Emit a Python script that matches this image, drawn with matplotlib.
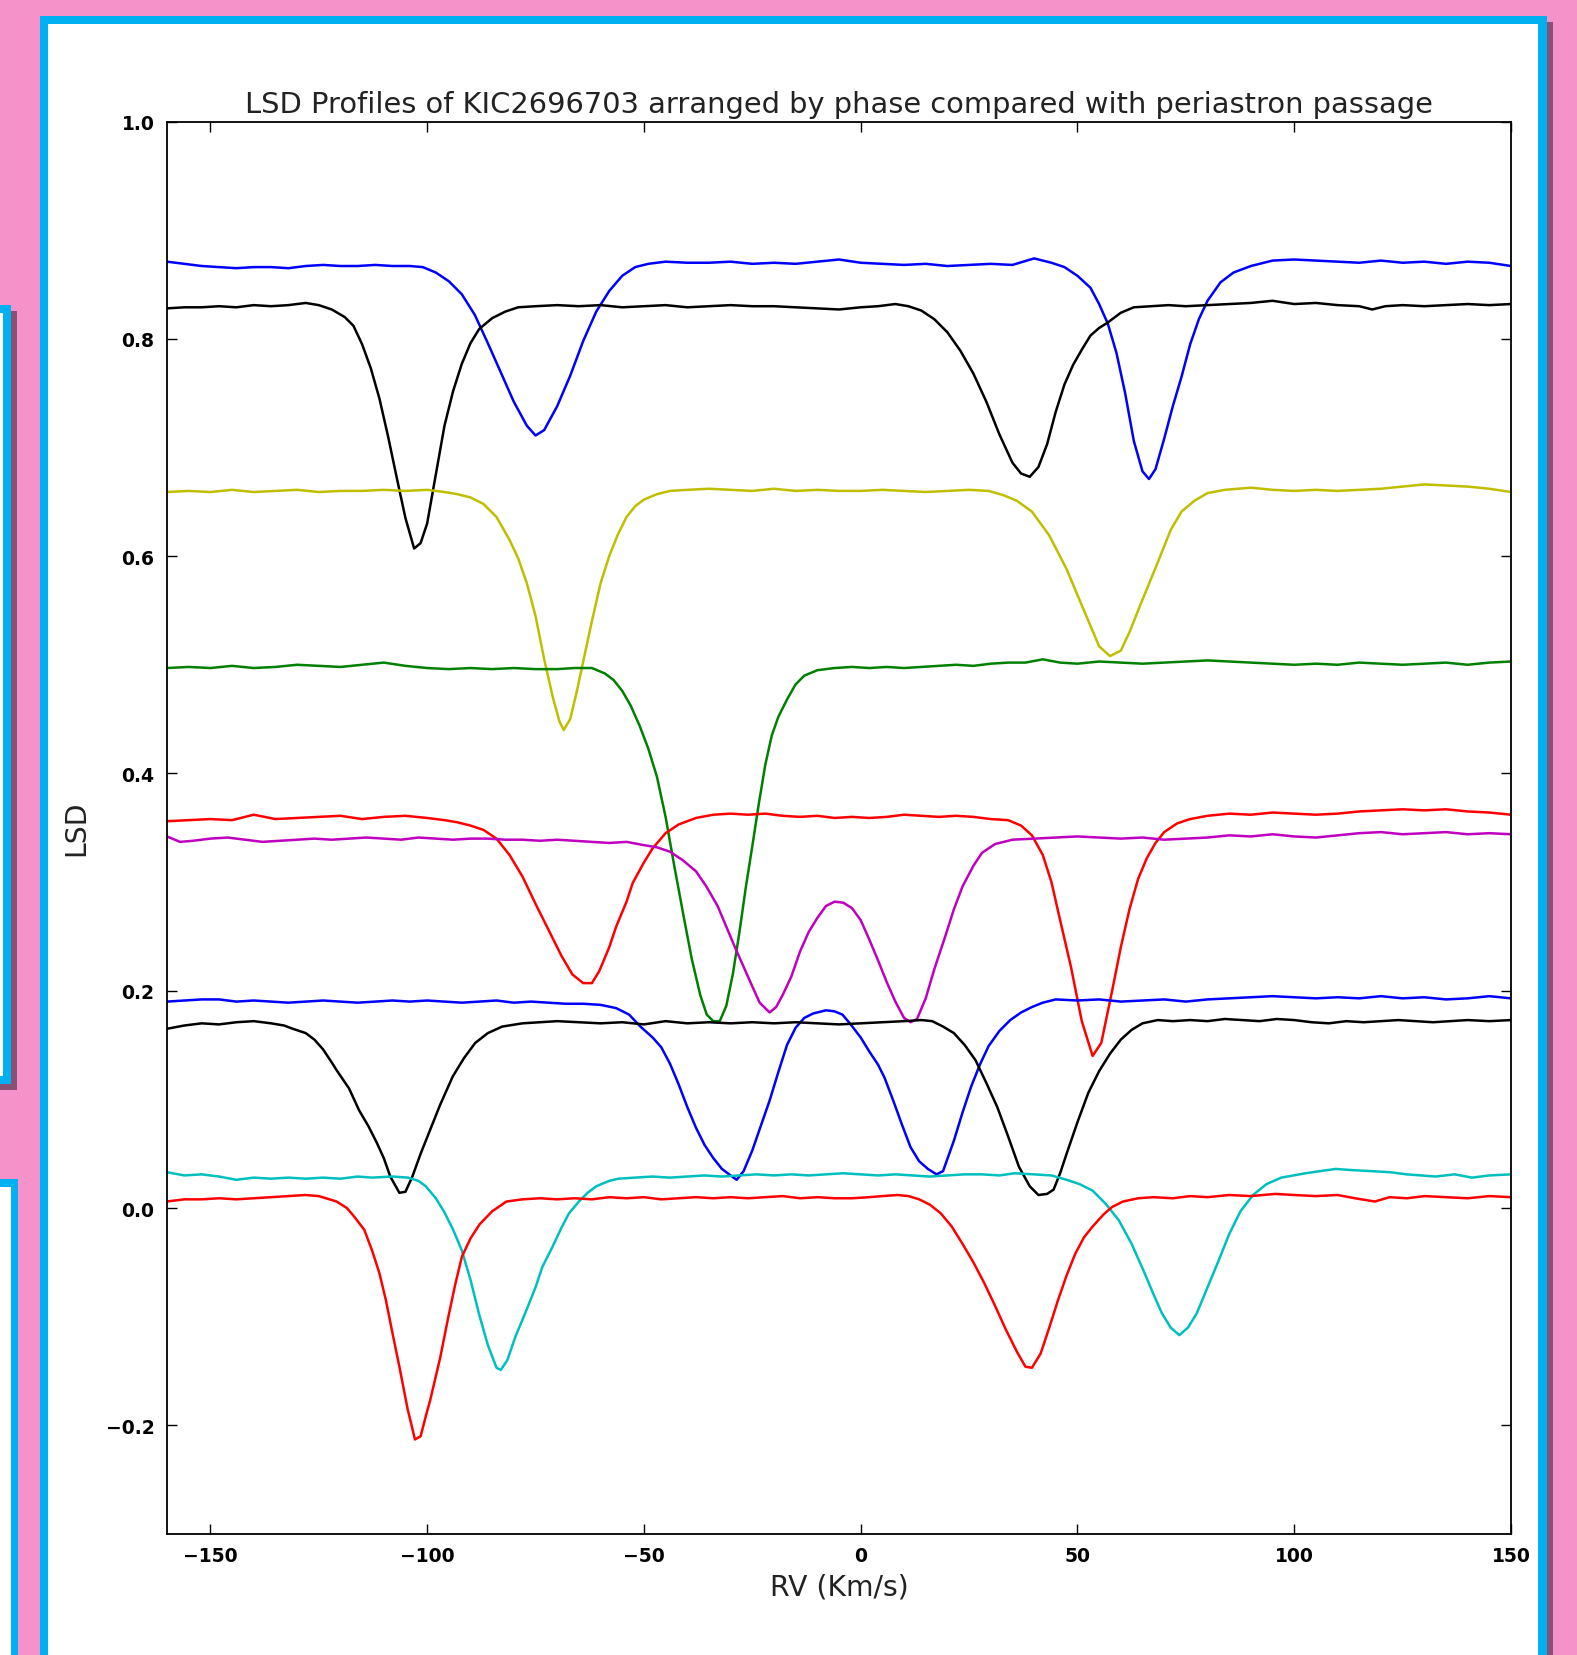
"""LSD profiles of KIC2696703 stacked by orbital phase, redrawn on the slide background."""
import matplotlib
matplotlib.use("Agg")
import matplotlib.pyplot as plt
from matplotlib.patches import Rectangle

W, H = 1577, 1656

# --- profiles: (RV km/s, LSD) ---------------------------------------------
rv_blue_top = [-160, -156, -152, -148, -144, -140, -136, -132, -128, -124, -120, -116, -112, -108,
               -104, -101, -98, -95, -92, -89, -86, -83, -80, -77, -75, -73, -70, -67, -64, -61,
               -58, -55, -52, -49, -45, -40, -35, -30, -25, -20, -15, -10, -5, 0, 5, 10, 15, 20,
               25, 30, 35, 40, 44, 47, 50, 53, 55, 57, 59, 61, 63, 65, 66.5, 68, 70, 72, 74, 76,
               78, 80, 83, 86, 90, 95, 100, 105, 110, 115, 120, 125, 130, 135, 140, 145, 150]
lsd_blue_top = [0.871, 0.869, 0.867, 0.866, 0.865, 0.866, 0.866, 0.865, 0.867, 0.868, 0.867, 0.867,
                0.868, 0.867, 0.867, 0.866, 0.861, 0.853, 0.841, 0.822, 0.796, 0.769, 0.742, 0.720,
                0.711, 0.716, 0.738, 0.766, 0.798, 0.825, 0.844, 0.858, 0.866, 0.869, 0.871, 0.870,
                0.870, 0.871, 0.869, 0.870, 0.869, 0.871, 0.873, 0.870, 0.869, 0.868, 0.869, 0.867,
                0.868, 0.869, 0.868, 0.874, 0.870, 0.866, 0.858, 0.847, 0.832, 0.814, 0.787, 0.750,
                0.706, 0.678, 0.671, 0.680, 0.708, 0.738, 0.765, 0.795, 0.818, 0.835, 0.852, 0.861,
                0.867, 0.872, 0.873, 0.872, 0.871, 0.870, 0.872, 0.870, 0.871, 0.869, 0.871, 0.870,
                0.867]

rv_black_top = [-160, -156, -152, -148, -144, -140, -136, -132, -128, -125, -122, -119, -117, -115,
                -113, -111, -109, -107, -105, -103, -101.5, -100, -98, -96, -94, -92, -90, -88, -85,
                -82, -79, -75, -70, -65, -60, -55, -50, -45, -40, -35, -30, -25, -20, -15, -10, -5,
                0, 4, 8, 11, 14, 17, 20, 23, 26, 29, 32, 35, 37, 39, 41, 43, 45, 47, 49, 51, 53, 55,
                57, 60, 63, 67, 71, 75, 80, 85, 90, 95, 100, 105, 110, 115, 118, 121, 125, 130, 135,
                140, 145, 150]
lsd_black_top = [0.828, 0.829, 0.829, 0.830, 0.829, 0.831, 0.830, 0.831, 0.833, 0.831, 0.827, 0.820,
                 0.812, 0.795, 0.773, 0.745, 0.710, 0.672, 0.635, 0.607, 0.612, 0.630, 0.675, 0.720,
                 0.752, 0.777, 0.796, 0.809, 0.819, 0.825, 0.829, 0.830, 0.831, 0.830, 0.831, 0.829,
                 0.830, 0.831, 0.829, 0.830, 0.831, 0.830, 0.830, 0.829, 0.828, 0.827, 0.829, 0.830,
                 0.832, 0.830, 0.826, 0.818, 0.806, 0.789, 0.768, 0.742, 0.712, 0.686, 0.676, 0.673,
                 0.682, 0.703, 0.733, 0.758, 0.776, 0.790, 0.803, 0.810, 0.815, 0.824, 0.829, 0.830,
                 0.831, 0.830, 0.831, 0.832, 0.833, 0.835, 0.832, 0.833, 0.831, 0.830, 0.827, 0.830,
                 0.831, 0.830, 0.831, 0.832, 0.831, 0.832]

rv_yellow = [-160, -155, -150, -145, -140, -135, -130, -125, -120, -115, -110, -105, -100, -96, -93,
             -90, -87, -84, -81, -79, -77, -75, -73, -71, -69.5, -68.5, -67, -65.5, -64, -62, -60,
             -58, -56, -54, -52, -50, -47, -44, -40, -35, -30, -25, -20, -15, -10, -5, 0, 5, 10, 15,
             20, 25, 29.5, 33, 36, 39.5, 43.5, 47.5, 51.5, 55, 57.5, 60, 62, 64.5, 68.5, 71.5, 74,
             77, 80, 84, 90, 95, 100, 105, 110, 115, 120, 125, 130, 135, 140, 145, 150]
lsd_yellow = [0.659, 0.660, 0.659, 0.661, 0.659, 0.660, 0.661, 0.659, 0.660, 0.660, 0.661, 0.660,
              0.661, 0.659, 0.657, 0.654, 0.648, 0.636, 0.615, 0.598, 0.575, 0.545, 0.505, 0.470,
              0.448, 0.440, 0.450, 0.475, 0.503, 0.540, 0.575, 0.600, 0.620, 0.636, 0.646, 0.652,
              0.657, 0.660, 0.661, 0.662, 0.661, 0.660, 0.662, 0.660, 0.661, 0.660, 0.660, 0.661,
              0.660, 0.659, 0.660, 0.661, 0.660, 0.656, 0.651, 0.641, 0.619, 0.588, 0.550, 0.517,
              0.508, 0.513, 0.530, 0.555, 0.594, 0.624, 0.641, 0.651, 0.658, 0.661, 0.663, 0.661,
              0.660, 0.661, 0.660, 0.661, 0.662, 0.664, 0.666, 0.665, 0.664, 0.662, 0.659]

rv_green = [-160, -155, -150, -145, -140, -135, -130, -125, -120, -115, -110, -105, -100, -95, -90,
            -85, -80, -75, -70, -66, -62, -59, -57, -55, -53, -51, -49, -47, -45, -43, -41, -39,
            -37, -35.5, -34, -32.5, -31, -29.5, -28, -26.5, -25, -23.5, -22, -20.5, -19, -17, -15,
            -13, -10, -6, -2, 2, 6, 10, 14, 18, 22, 26, 30, 34, 38, 42, 46, 50, 55, 60, 65, 70, 75,
            80, 85, 90, 95, 100, 105, 110, 115, 120, 125, 130, 135, 140, 145, 150]
lsd_green = [0.497, 0.498, 0.497, 0.499, 0.497, 0.498, 0.500, 0.499, 0.498, 0.500, 0.502, 0.499,
             0.497, 0.496, 0.497, 0.496, 0.497, 0.496, 0.496, 0.497, 0.497, 0.492, 0.486, 0.476,
             0.462, 0.444, 0.423, 0.397, 0.360, 0.315, 0.272, 0.230, 0.196, 0.178, 0.172, 0.172,
             0.186, 0.215, 0.253, 0.295, 0.333, 0.372, 0.408, 0.435, 0.452, 0.468, 0.482, 0.490,
             0.495, 0.497, 0.498, 0.497, 0.498, 0.497, 0.498, 0.499, 0.500, 0.499, 0.501, 0.502,
             0.502, 0.505, 0.502, 0.501, 0.503, 0.502, 0.501, 0.502, 0.503, 0.504, 0.503, 0.502,
             0.501, 0.500, 0.501, 0.500, 0.502, 0.501, 0.500, 0.501, 0.502, 0.500, 0.502, 0.503]

rv_red_mid = [-160, -155, -150, -145, -140, -135, -130, -125, -120, -115, -110, -105, -100, -96, -93,
              -90, -87, -84, -81, -78, -75, -72, -69, -66.5, -64, -62, -60.3, -58, -56.4, -54, -52.6,
              -50, -48, -45, -42, -38, -34, -30, -26, -22, -18, -14, -10, -6, -2, 2, 6, 10, 14, 18,
              22, 26, 30, 34, 37, 39.5, 42, 44, 46, 48.5, 51, 53.5, 55.5, 58, 60, 62, 64, 66, 68, 70,
              73, 76, 80, 85, 90, 95, 100, 105, 110, 115, 120, 125, 130, 135, 140, 145, 150]
lsd_red_mid = [0.356, 0.357, 0.358, 0.357, 0.362, 0.358, 0.359, 0.360, 0.361, 0.358, 0.360, 0.361,
               0.359, 0.357, 0.355, 0.352, 0.348, 0.340, 0.325, 0.305, 0.280, 0.256, 0.232, 0.215,
               0.207, 0.207, 0.218, 0.240, 0.259, 0.282, 0.299, 0.318, 0.331, 0.345, 0.353, 0.359,
               0.362, 0.363, 0.362, 0.363, 0.361, 0.360, 0.361, 0.359, 0.360, 0.359, 0.360, 0.362,
               0.361, 0.360, 0.361, 0.360, 0.358, 0.357, 0.352, 0.343, 0.325, 0.300, 0.265, 0.222,
               0.172, 0.140, 0.152, 0.200, 0.240, 0.275, 0.303, 0.322, 0.336, 0.346, 0.354, 0.358,
               0.361, 0.363, 0.362, 0.364, 0.363, 0.362, 0.363, 0.365, 0.366, 0.367, 0.366, 0.367,
               0.365, 0.364, 0.362]

rv_magenta = [-160, -157, -154, -150, -146, -142, -138, -134, -130, -126, -122, -118, -114, -110,
              -106, -102, -98, -94, -90, -86, -82, -78, -74, -70, -66, -62, -58, -54, -50, -47, -44,
              -41, -38, -35.6, -33, -31, -29, -27, -25, -23.3, -21, -19.5, -18, -16, -14, -12, -10,
              -8, -6, -4, -2, 0, 2, 4, 6, 8, 10, 11.5, 13, 15, 17, 19.5, 21.5, 23.5, 26, 28, 31, 35,
              40, 45, 50, 55, 60, 65, 70, 75, 80, 85, 90, 95, 100, 105, 110, 115, 120, 125, 130, 135,
              140, 145, 150]
lsd_magenta = [0.342, 0.337, 0.338, 0.340, 0.341, 0.339, 0.337, 0.338, 0.339, 0.340, 0.339, 0.340,
               0.341, 0.340, 0.339, 0.341, 0.340, 0.339, 0.340, 0.340, 0.339, 0.339, 0.338, 0.339,
               0.338, 0.337, 0.336, 0.337, 0.334, 0.332, 0.328, 0.320, 0.310, 0.296, 0.278, 0.259,
               0.240, 0.222, 0.204, 0.189, 0.180, 0.185, 0.196, 0.213, 0.236, 0.254, 0.267, 0.278,
               0.282, 0.281, 0.276, 0.265, 0.247, 0.228, 0.208, 0.190, 0.175, 0.171, 0.174, 0.193,
               0.220, 0.250, 0.275, 0.296, 0.315, 0.327, 0.335, 0.339, 0.340, 0.341, 0.342, 0.341,
               0.340, 0.341, 0.339, 0.340, 0.341, 0.343, 0.342, 0.344, 0.342, 0.341, 0.343, 0.345,
               0.346, 0.344, 0.345, 0.346, 0.344, 0.345, 0.344]

rv_blue_bot = [-160, -156, -152, -148, -144, -140, -136, -132, -128, -124, -120, -116, -112, -108,
               -104, -100, -96, -92, -88, -84, -80, -76, -72, -68, -64, -60, -56.4, -53.4, -50.8,
               -48, -46, -44, -42, -40, -38, -36, -34, -32, -30, -28.6, -27, -25, -23, -21, -19, -17,
               -15, -13, -11, -8, -6, -4.2, -2.5, 0, 2, 4, 5.5, 7.5, 9.5, 11.5, 13.5, 15.5, 17.5, 19,
               21.5, 23.5, 25.5, 27.5, 29.5, 32, 34.5, 37, 39.5, 42, 45, 50, 55, 60, 65, 70, 75, 80,
               85, 90, 95, 100, 105, 110, 115, 120, 125, 130, 135, 140, 145, 150]
lsd_blue_bot = [0.190, 0.191, 0.192, 0.192, 0.190, 0.191, 0.190, 0.189, 0.190, 0.191, 0.190, 0.189,
                0.190, 0.191, 0.190, 0.191, 0.190, 0.189, 0.190, 0.191, 0.189, 0.190, 0.189, 0.188,
                0.188, 0.187, 0.184, 0.178, 0.167, 0.157, 0.148, 0.133, 0.114, 0.093, 0.074, 0.058,
                0.046, 0.036, 0.030, 0.026, 0.034, 0.053, 0.076, 0.099, 0.125, 0.150, 0.166, 0.175,
                0.179, 0.182, 0.181, 0.178, 0.170, 0.157, 0.144, 0.132, 0.120, 0.099, 0.077, 0.056,
                0.043, 0.036, 0.031, 0.034, 0.062, 0.088, 0.112, 0.132, 0.149, 0.163, 0.173, 0.180,
                0.185, 0.189, 0.192, 0.191, 0.192, 0.190, 0.191, 0.192, 0.190, 0.192, 0.193, 0.194,
                0.195, 0.194, 0.193, 0.194, 0.193, 0.195, 0.193, 0.194, 0.192, 0.193, 0.195, 0.193]

rv_black_bot = [-160, -156, -152, -148, -144, -140, -136, -133, -131, -128, -126, -124, -122, -120.9,
                -118, -115.7, -113.5, -111.6, -110, -108.5, -106.4, -105, -103.4, -101.5, -99.3, -97,
                -94.1, -91.5, -88.9, -86, -82.7, -78, -74, -70, -65, -60, -55, -50, -45, -40, -35, -30,
                -25, -20, -15, -10, -5, 0, 5, 10, 14, 16.5, 19, 21.5, 24, 26.5, 29, 31.5, 34, 36.5, 39,
                41, 43, 44.5, 46, 47.5, 50, 52.5, 55, 57.5, 60, 62.5, 65, 68.5, 72, 76, 80, 84, 88, 92,
                96, 100, 104, 108, 112, 116, 120, 124, 128, 132, 136, 140, 145, 150]
lsd_black_bot = [0.165, 0.168, 0.170, 0.169, 0.171, 0.172, 0.170, 0.168, 0.165, 0.161, 0.155, 0.146,
                 0.134, 0.127, 0.110, 0.090, 0.075, 0.060, 0.046, 0.029, 0.014, 0.015, 0.029, 0.050,
                 0.072, 0.095, 0.121, 0.138, 0.152, 0.161, 0.167, 0.170, 0.171, 0.172, 0.171, 0.170,
                 0.171, 0.169, 0.172, 0.170, 0.171, 0.170, 0.171, 0.170, 0.171, 0.170, 0.169, 0.170,
                 0.171, 0.172, 0.173, 0.172, 0.167, 0.161, 0.150, 0.136, 0.115, 0.093, 0.066, 0.038,
                 0.020, 0.012, 0.013, 0.017, 0.032, 0.050, 0.079, 0.106, 0.126, 0.142, 0.155, 0.164,
                 0.170, 0.173, 0.172, 0.173, 0.172, 0.174, 0.173, 0.172, 0.174, 0.173, 0.171, 0.170,
                 0.172, 0.171, 0.172, 0.173, 0.172, 0.171, 0.172, 0.173, 0.172, 0.173]

rv_cyan = [-160, -156, -152, -148, -144, -140, -136, -132, -128, -124, -120, -116, -112.7, -108,
           -104.4, -102, -100.3, -98, -96, -94, -92, -90, -88, -86, -84, -83, -81.5, -79.6, -77, -75,
           -73.4, -71, -69, -67.3, -65, -63, -61, -58, -55.9, -52, -48, -44, -40, -36, -32, -28, -24,
           -20, -16, -12, -8, -4, 0, 4, 8, 12, 16, 20, 24, 28, 32, 35.5, 40, 44, 47.5, 50.5, 53.5,
           56.5, 59.5, 62.5, 65.5, 67.5, 69.5, 71.5, 73.5, 75.5, 77.5, 80, 82.6, 85, 87.6, 90.5, 93.6,
           97, 102.6, 106, 109.6, 113, 117.6, 122, 126, 132.6, 137, 141, 145, 150]
lsd_cyan = [0.033, 0.030, 0.031, 0.029, 0.026, 0.028, 0.027, 0.028, 0.027, 0.028, 0.027, 0.029, 0.028,
            0.029, 0.028, 0.025, 0.020, 0.009, -0.004, -0.020, -0.039, -0.066, -0.098, -0.126,
            -0.147, -0.149, -0.140, -0.118, -0.093, -0.073, -0.054, -0.035, -0.018, -0.005, 0.006,
            0.014, 0.020, 0.025, 0.027, 0.028, 0.029, 0.028, 0.029, 0.030, 0.029, 0.030, 0.031,
            0.030, 0.031, 0.030, 0.031, 0.032, 0.031, 0.030, 0.031, 0.030, 0.029, 0.030, 0.031,
            0.031, 0.030, 0.032, 0.031, 0.030, 0.026, 0.022, 0.016, 0.004, -0.011, -0.033, -0.060,
            -0.079, -0.097, -0.110, -0.117, -0.110, -0.097, -0.073, -0.048, -0.024, -0.003, 0.012,
            0.022, 0.028, 0.032, 0.034, 0.036, 0.035, 0.034, 0.033, 0.031, 0.029, 0.031, 0.028,
            0.030, 0.031]

rv_red_bot = [-160, -156, -152, -148, -144, -140, -136, -132, -128.1, -125, -122.5, -120.9, -118.5,
              -116.8, -114.5, -112.7, -111, -109.5, -108, -106.4, -104.5, -102.8, -101.5, -100.2,
              -99.3, -97, -95.1, -93.5, -92, -90, -87.9, -85, -81.7, -78, -74, -70, -66, -62, -58, -54,
              -50, -46, -42, -38, -34, -30, -26, -22, -18, -14, -10, -6, -2, 2, 5, 8.5, 11, 13.5, 16,
              18.5, 21, 23.5, 26, 28.5, 31, 33.5, 36, 38, 39.5, 41.5, 43.5, 45.5, 47.5, 49.5, 51.5,
              53.5, 56, 58, 60.5, 64, 67.5, 72, 76, 80, 85, 90, 95.6, 100, 105, 110, 114, 118.6, 122,
              126, 130, 135, 140, 145, 150]
lsd_red_bot = [0.006, 0.008, 0.008, 0.009, 0.008, 0.009, 0.010, 0.011, 0.012, 0.011, 0.008, 0.006,
               0.000, -0.008, -0.020, -0.039, -0.060, -0.085, -0.115, -0.146, -0.185, -0.213, -0.210,
               -0.190, -0.177, -0.138, -0.100, -0.070, -0.045, -0.028, -0.015, -0.003, 0.006, 0.008,
               0.009, 0.008, 0.009, 0.008, 0.010, 0.009, 0.010, 0.008, 0.009, 0.010, 0.009, 0.010,
               0.009, 0.010, 0.011, 0.009, 0.010, 0.009, 0.009, 0.010, 0.011, 0.012, 0.011, 0.008,
               0.003, -0.005, -0.017, -0.033, -0.050, -0.069, -0.090, -0.112, -0.132, -0.146, -0.147,
               -0.134, -0.110, -0.085, -0.062, -0.042, -0.027, -0.017, -0.006, 0.001, 0.006, 0.009,
               0.010, 0.009, 0.011, 0.010, 0.012, 0.011, 0.013, 0.012, 0.011, 0.012, 0.009, 0.006,
               0.010, 0.009, 0.011, 0.010, 0.009, 0.011, 0.010]

xticks = [-150, -100, -50, 0, 50, 100, 150]
yticks = [-0.2, 0.0, 0.2, 0.4, 0.6, 0.8, 1.0]

PINK, CYAN, SHADOW = "#F592C9", "#00B0F0", "#8A5073"


def px_rect(fig, x0, y0, x1, y1, color):
    # rectangle given in screenshot pixels, origin top-left
    fig.patches.append(Rectangle((x0 / W, 1 - y1 / H), (x1 - x0) / W, (y1 - y0) / H,
                                 transform=fig.transFigure, facecolor=color,
                                 edgecolor="none", zorder=-10))


fig = plt.figure(figsize=(W / 100, H / 100), dpi=100, facecolor=PINK)

# slide panels around the chart
px_rect(fig, 1540, 23, 1553, H, SHADOW)
px_rect(fig, 40, 17, 1547, H, CYAN)
px_rect(fig, 48, 25, 1538, H, "white")
px_rect(fig, 0, 312, 17, 1091, SHADOW)
px_rect(fig, 0, 306, 11, 1085, CYAN)
px_rect(fig, 0, 314, 3, 1077, "white")
px_rect(fig, 0, 1180, 18, H, CYAN)
px_rect(fig, 0, 1188, 11, H, "white")

ax = fig.add_axes([167 / W, 1 - 1535 / H, (1511 - 167) / W, (1535 - 122.5) / H])

lw = 1.8
ax.plot(rv_blue_top, lsd_blue_top, color="b", lw=lw)
ax.plot(rv_black_top, lsd_black_top, color="k", lw=lw)
ax.plot(rv_yellow, lsd_yellow, color=(0.75, 0.75, 0), lw=lw)
ax.plot(rv_green, lsd_green, color="g", lw=lw)
ax.plot(rv_red_mid, lsd_red_mid, color="r", lw=lw)
ax.plot(rv_magenta, lsd_magenta, color=(0.75, 0, 0.75), lw=lw)
ax.plot(rv_blue_bot, lsd_blue_bot, color="b", lw=lw)
ax.plot(rv_black_bot, lsd_black_bot, color="k", lw=lw)
ax.plot(rv_cyan, lsd_cyan, color=(0, 0.75, 0.75), lw=lw)
ax.plot(rv_red_bot, lsd_red_bot, color="r", lw=lw)

ax.set_xlim(-160, 150)
ax.set_ylim(-0.3, 1.0)
ax.set_xticks(xticks)
ax.set_yticks(yticks)
ax.tick_params(direction="in", top=True, right=True, length=7, width=1, labelsize=13.5, pad=9)
for lab in ax.get_xticklabels() + ax.get_yticklabels():
    lab.set_fontweight("bold")
for sp in ax.spines.values():
    sp.set_linewidth(1.3)

ax.set_title("LSD Profiles of KIC2696703 arranged by phase compared with periastron passage",
             fontsize=20.8, pad=7, color="#222222")
ax.set_xlabel("RV (Km/s)", fontsize=20.3, labelpad=5, color="#222222")
ax.set_ylabel("LSD", fontsize=20.3, labelpad=11, color="#222222")

fig.savefig("out.png", dpi=100, facecolor=PINK)
